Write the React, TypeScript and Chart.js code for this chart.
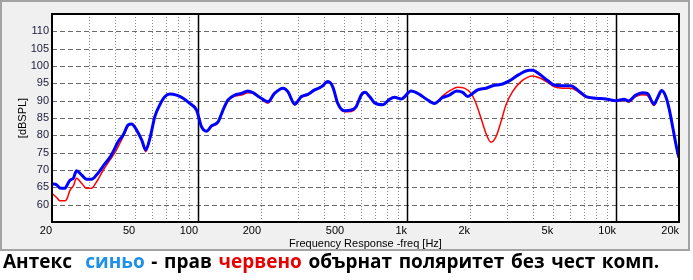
import React, { useEffect, useRef } from 'react';
import { Chart, registerables } from 'chart.js';

Chart.register(...registerables);

const BLUE_FREQ = [20, 21.1, 21.8, 23.1, 23.5, 24.4, 25.3, 26.2, 27.7, 29.3, 30.9, 32.7, 35.2, 37.9, 40, 41.5, 43.8, 46.3, 48.1, 50.8, 53.7, 56.2, 58.8, 62.1, 65.6, 69.3, 73.2, 78.8, 84.8, 91.2, 98.3, 103.8, 109.7, 115.9, 124.6, 131.6, 139.1, 149.7, 161, 173, 183, 197, 216, 232, 255, 269, 290, 312, 335, 361, 389, 418, 441, 466, 502, 540, 571, 603, 630, 661, 698, 765, 824, 870, 937, 1046, 1146, 1233, 1351, 1480, 1593, 1727, 1845, 1949, 2059, 2176, 2387, 2566, 2864, 3083, 3442, 3842, 3985, 4290, 4699, 5058, 5542, 6078, 6536, 7168, 8000, 8932, 9970, 10924, 11452, 12422, 13356, 14112, 15194, 15756, 16536, 17280, 17920, 18580, 19290, 19630, 20000];
const BLUE_DB = [66.0, 65.7, 64.8, 64.7, 65.4, 67.1, 67.6, 69.8, 68.6, 67.3, 67.3, 68.6, 71.2, 73.7, 76.3, 78.2, 80.1, 83.0, 83.3, 81.5, 78.7, 75.8, 79.1, 85.4, 88.8, 91.1, 91.9, 91.6, 90.7, 89.2, 87.3, 82.5, 81.2, 82.7, 83.9, 87.3, 90.2, 91.6, 92.1, 92.8, 92.3, 91.0, 89.7, 92.1, 93.6, 92.6, 89.0, 91.2, 91.8, 93.1, 94.0, 95.5, 94.0, 89.2, 87.1, 87.3, 88.3, 91.6, 92.4, 91.2, 89.4, 88.8, 90.4, 91.0, 90.5, 92.8, 91.8, 90.5, 89.2, 90.9, 91.6, 92.8, 92.4, 91.2, 92.1, 93.1, 93.6, 94.3, 94.8, 95.7, 97.6, 98.8, 98.8, 97.7, 95.8, 94.5, 94.3, 94.3, 93.1, 91.2, 90.7, 90.5, 90.0, 90.4, 89.9, 91.6, 92.3, 92.1, 89.0, 90.7, 92.9, 91.2, 87.8, 83.0, 77.7, 75.5, 73.5];

const RED_FREQ = [20, 21.1, 21.8, 23.1, 23.5, 24.4, 25.3, 26.2, 27.7, 29.3, 30.9, 32.7, 35.2, 37.9, 40, 41.5, 43.8, 46.3, 48.1, 50.8, 53.7, 56.2, 58.8, 62.1, 65.6, 69.3, 73.2, 78.8, 84.8, 91.2, 98.3, 103.8, 109.7, 115.9, 124.6, 131.6, 139.1, 149.7, 161, 173, 183, 197, 216, 232, 255, 269, 290, 312, 335, 361, 389, 418, 441, 466, 502, 540, 571, 603, 630, 661, 698, 765, 824, 870, 937, 1046, 1146, 1233, 1351, 1480, 1624, 1746, 1880, 2023, 2138, 2259, 2402, 2520, 2663, 2814, 2974, 3196, 3506, 3771, 3985, 4290, 4699, 5058, 5542, 6078, 6536, 7168, 8000, 8932, 9970, 10924, 11452, 12422, 13356, 14112, 15194, 15756, 16536, 17280, 17920, 18580, 19290, 19630, 20000];
const RED_DB = [63.3, 62.0, 61.1, 61.1, 61.5, 64.2, 65.4, 67.6, 66.2, 64.7, 64.7, 66.6, 70.0, 72.9, 75.0, 76.8, 79.6, 82.7, 83.2, 81.5, 78.7, 75.3, 78.9, 85.4, 88.8, 91.1, 91.9, 91.6, 90.7, 89.2, 87.3, 82.5, 81.2, 82.5, 83.7, 87.1, 89.9, 91.3, 91.6, 92.3, 92.2, 91.0, 89.3, 92.0, 93.6, 92.4, 88.8, 91.0, 91.6, 93.0, 94.0, 95.5, 94.0, 89.0, 86.8, 86.9, 88.1, 91.4, 92.3, 91.1, 89.3, 88.8, 90.3, 91.0, 90.5, 92.8, 91.8, 90.5, 89.2, 91.4, 93.1, 93.9, 93.6, 92.1, 89.2, 84.9, 80.1, 78.0, 79.6, 83.9, 88.8, 92.6, 95.5, 96.7, 97.1, 96.6, 95.3, 94.0, 93.6, 93.6, 92.7, 91.0, 90.6, 90.4, 89.8, 90.2, 89.6, 91.2, 91.7, 91.5, 88.6, 90.4, 92.8, 91.0, 87.6, 82.8, 77.6, 75.5, 73.5];

const X_TICKS = [20, 50, 100, 200, 500, 1000, 2000, 5000, 10000, 20000];
const X_TICK_LABELS = ['20', '50', '100', '200', '500', '1k', '2k', '5k', '10k', '20k'];
const X_GRID_MINOR = [30, 40, 50, 60, 70, 80, 90, 200, 300, 400, 500, 600, 700, 800, 900, 2000, 3000, 4000, 5000, 6000, 7000, 8000, 9000];
const X_GRID_MAJOR = [100, 1000, 10000];
const Y_TICKS = [60, 65, 70, 75, 80, 85, 90, 95, 100, 105, 110];

const AXIS_FONT = { family: '"Liberation Sans", Arial, sans-serif', size: 11 };

const gridPlugin = {
  id: 'customGrid',
  beforeDatasetsDraw(chart: any) {
    const { ctx, chartArea: a, scales } = chart;
    const xs = scales.x;
    const ys = scales.y;
    ctx.save();
    ctx.fillStyle = '#ffffff';
    ctx.fillRect(a.left, a.top, a.right - a.left, a.bottom - a.top);
    ctx.beginPath();
    ctx.rect(a.left, a.top, a.right - a.left, a.bottom - a.top);
    ctx.clip();
    ctx.strokeStyle = '#6a6a6a';
    ctx.lineWidth = 1;
    ctx.setLineDash([5, 3]);
    for (const v of Y_TICKS) {
      const y = Math.round(ys.getPixelForValue(v)) + 0.5;
      ctx.beginPath();
      ctx.moveTo(a.left, y);
      ctx.lineTo(a.right, y);
      ctx.stroke();
    }
    ctx.strokeStyle = '#8a8a8a';
    ctx.setLineDash([1, 2]);
    for (const v of X_GRID_MINOR) {
      const x = Math.round(xs.getPixelForValue(v)) + 0.5;
      ctx.beginPath();
      ctx.moveTo(x, a.top);
      ctx.lineTo(x, a.bottom);
      ctx.stroke();
    }
    ctx.setLineDash([]);
    ctx.strokeStyle = '#000000';
    ctx.lineWidth = 1.5;
    for (const v of X_GRID_MAJOR) {
      const x = Math.round(xs.getPixelForValue(v)) + 0.5;
      ctx.beginPath();
      ctx.moveTo(x, a.top);
      ctx.lineTo(x, a.bottom);
      ctx.stroke();
    }
    ctx.restore();
  },
  afterDatasetsDraw(chart: any) {
    const { ctx, chartArea: a } = chart;
    ctx.save();
    ctx.strokeStyle = '#000000';
    ctx.lineWidth = 2;
    ctx.setLineDash([]);
    ctx.strokeRect(a.left, a.top, a.right - a.left, a.bottom - a.top);
    ctx.restore();
  },
};

export default function App() {
  const canvasRef = useRef<HTMLCanvasElement | null>(null);

  useEffect(() => {
    document.body.style.margin = '0';
    const canvas = canvasRef.current;
    if (!canvas) return;
    const chart = new Chart(canvas, {
      type: 'line',
      data: {
        datasets: [
          {
            label: 'синьо',
            data: BLUE_FREQ.map((f, i) => ({ x: f, y: BLUE_DB[i] })),
            borderColor: '#0000ff',
            borderWidth: 3,
            pointRadius: 0,
            fill: false,
            cubicInterpolationMode: 'monotone',
          },
          {
            label: 'червено',
            data: RED_FREQ.map((f, i) => ({ x: f, y: RED_DB[i] })),
            borderColor: '#ff0000',
            borderWidth: 1.5,
            pointRadius: 0,
            fill: false,
            cubicInterpolationMode: 'monotone',
          },
        ],
      },
      options: {
        responsive: false,
        animation: false,
        events: [],
        layout: { padding: { left: 0, top: 14, right: 14, bottom: 0 } },
        plugins: { legend: { display: false }, tooltip: { enabled: false } },
        scales: {
          x: {
            type: 'logarithmic',
            min: 20,
            max: 20000,
            grid: { display: false, drawTicks: false, tickLength: 0 },
            border: { display: false },
            afterBuildTicks: (s: any) => {
              s.ticks = X_TICKS.map((v) => ({ value: v }));
            },
            afterFit: (s: any) => {
              s.height = 58;
            },
            ticks: {
              autoSkip: false,
              maxRotation: 0,
              minRotation: 0,
              align: 'end',
              padding: 2,
              color: '#000000',
              font: AXIS_FONT,
              callback: (v: any) => {
                const i = X_TICKS.indexOf(Number(v));
                return i >= 0 ? X_TICK_LABELS[i] : '';
              },
            },
            title: {
              display: true,
              text: 'Frequency Response -freq [Hz]',
              color: '#000000',
              font: AXIS_FONT,
              padding: { top: 0, bottom: 29 },
            },
          },
          y: {
            type: 'linear',
            min: 55,
            max: 115,
            grid: { display: false, drawTicks: false, tickLength: 0 },
            border: { display: false },
            afterBuildTicks: (s: any) => {
              s.ticks = Y_TICKS.map((v) => ({ value: v }));
            },
            afterFit: (s: any) => {
              s.width = 52;
            },
            ticks: {
              padding: 3,
              color: '#1c1c3c',
              font: AXIS_FONT,
            },
            title: {
              display: true,
              text: '[dBSPL]',
              color: '#000000',
              font: AXIS_FONT,
              padding: { top: 16, bottom: 0 },
            },
          },
        },
      },
      plugins: [gridPlugin],
    } as any);
    return () => chart.destroy();
  }, []);

  return (
    <div style={{ position: 'relative', width: 693, height: 280, background: '#ffffff', overflow: 'hidden' }}>
      <div
        style={{
          position: 'absolute',
          left: 0,
          top: 0,
          width: 690,
          height: 251,
          boxSizing: 'border-box',
          border: '2px solid #a3a3a3',
          background: '#f0f0f0',
        }}
      />
      <canvas ref={canvasRef} width={693} height={280} style={{ position: 'absolute', left: 0, top: 0 }} />
      <div
        style={{
          position: 'absolute',
          left: 3,
          top: 252,
          fontFamily: '"Open Sans", sans-serif',
          fontWeight: 700,
          fontSize: 19,
          lineHeight: '19px',
          wordSpacing: '1.7px',
          whiteSpace: 'pre',
          color: '#000000',
        }}
      >
        {'Антекс  '}
        <span style={{ color: '#1e90e6' }}>синьо</span>
        {' - прав '}
        <span style={{ color: '#e60000' }}>червено</span>
        {' обърнат поляритет без чест комп.'}
      </div>
    </div>
  );
}
